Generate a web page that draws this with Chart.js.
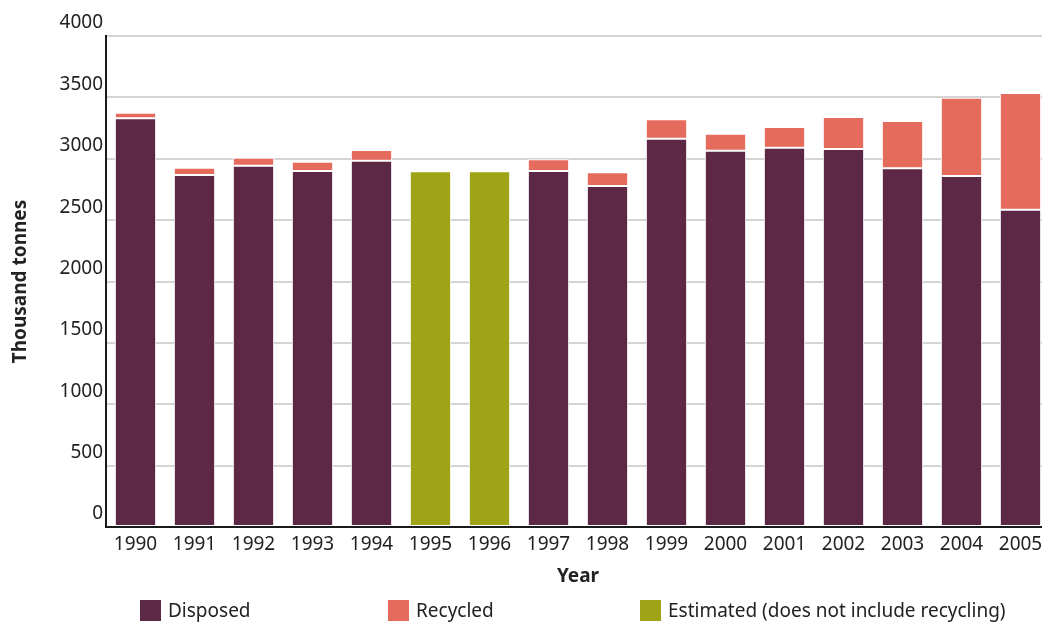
<!DOCTYPE html>
<html>
<head>
<meta charset="utf-8">
<script src="https://cdn.jsdelivr.net/npm/chart.js@4"></script>
<style>
	body { margin: 0; background: #fff; font-family: "Noto Sans", sans-serif; overflow: hidden; }
	#wrap { position: relative; width: 1042px; height: 625px; overflow: hidden; }
	.leg { position: absolute; top: 598px; font-size: 19px; color: #222; line-height: 24px; white-space: nowrap; }
	.leg span { display: inline-block; width: 21px; height: 21px; vertical-align: -4px; margin-right: 7px; }
</style>
</head>
<body>
<div id="wrap">
	<canvas id="myChart" width="1050" height="625"></canvas>
	<div class="leg" style="left:140px"><span style="background:#5c2846"></span>Disposed</div>
	<div class="leg" style="left:388px"><span style="background:#e56b5d"></span>Recycled</div>
	<div class="leg" style="left:640px"><span style="background:#9fa416"></span>Estimated (does not include recycling)</div>
</div>
<script>
	// 연도별 데이터 (천 톤)
	var years = ["1990", "1991", "1992", "1993", "1994", "1995", "1996", "1997",
		"1998", "1999", "2000", "2001", "2002", "2003", "2004", "2005"];
	var disposed = [3330, 2868, 2943, 2900, 2984, null, null, 2900, 2778, 3163, 3066, 3090, 3079, 2922, 2860, 2585];
	var recycled = [45, 59, 66, 76, 87, null, null, 95, 112, 158, 138, 169, 261, 386, 637, 951];
	var estimated = [null, null, null, null, null, 2898, 2898, null, null, null, null, null, null, null, null, null];
	var yTicks = [0, 500, 1000, 1500, 2000, 2500, 3000, 3500, 4000];

	var font = "'Noto Sans', sans-serif";

	var ctx = document.getElementById('myChart').getContext('2d');

	// 캔버스는 1050 폭, 화면은 1042에서 잘림 (원본처럼 2005 막대가 가장자리에 붙음)
	window.chart_main = new Chart(ctx, {
		type: 'bar',
		data: {
			labels: years,
			datasets: [{
				label: 'Disposed',
				data: disposed,
				backgroundColor: '#5c2846',
				borderColor: '#ffffff',
				borderWidth: 1,
				borderSkipped: false
			}, {
				label: 'Recycled',
				data: recycled,
				backgroundColor: '#e56b5d',
				borderColor: '#ffffff',
				borderWidth: 1,
				borderSkipped: false
			}, {
				label: 'Estimated (does not include recycling)',
				data: estimated,
				backgroundColor: '#9fa416',
				borderColor: '#ffffff',
				borderWidth: 1,
				borderSkipped: false
			}]
		},
		options: {
			responsive: false,
			animation: false,
			barPercentage: 0.7,
			categoryPercentage: 1,
			layout: {
				padding: { top: 36, right: 0, bottom: 37, left: 0 }
			},
			plugins: {
				legend: { display: false },
				tooltip: { enabled: false }
			},
			scales: {
				x: {
					stacked: true,
					grid: { display: false, drawTicks: false },
					border: { color: '#1a1a1a', width: 2 },
					ticks: {
						color: '#222',
						font: { family: font, size: 19 },
						padding: 6,
						maxRotation: 0,
						autoSkip: false
					},
					title: {
						display: true,
						text: 'Year',
						color: '#222',
						font: { family: font, size: 19, weight: 'bold' },
						padding: { top: 4, bottom: 0 }
					},
					afterFit: function(scale) {
						scale.height = 61;
					}
				},
				y: {
					stacked: true,
					min: 0,
					max: 4000,
					afterBuildTicks: function(scale) {
						scale.ticks = yTicks.map(function(v) { return { value: v }; });
					},
					grid: { color: '#d4d4d4', lineWidth: 2, drawTicks: false },
					border: { color: '#1a1a1a', width: 2 },
					ticks: {
						color: '#222',
						font: { family: font, size: 19 },
						padding: 3,
						labelOffset: -13,
						callback: function(v) { return String(v); }
					},
					title: {
						display: true,
						text: 'Thousand tonnes',
						color: '#222',
						font: { family: font, size: 19, weight: 'bold' },
						padding: { top: 9, bottom: 0 }
					},
					afterFit: function(scale) {
						scale.width = 106;
					}
				}
			}
		}
	});
</script>
</body>
</html>
